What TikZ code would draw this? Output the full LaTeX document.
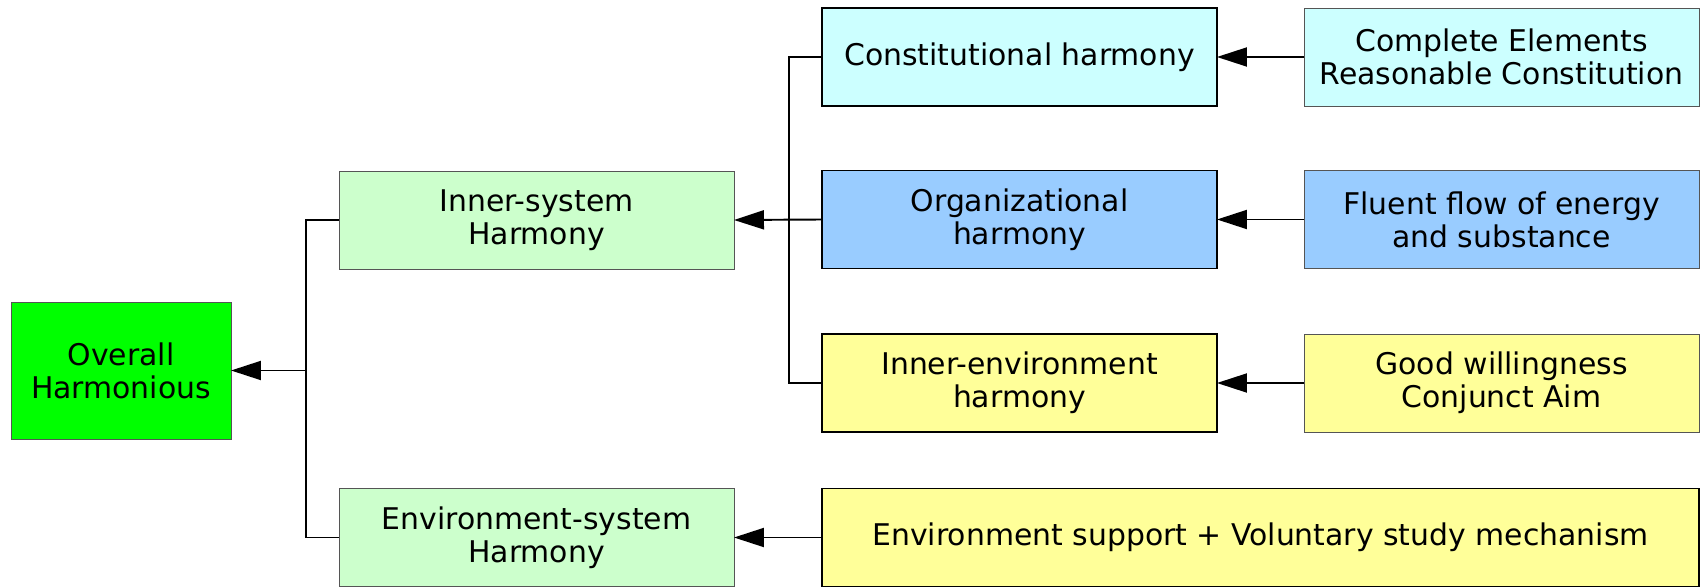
\documentclass[tikz,border=0pt]{standalone}
\usepackage{fontspec}
\setmainfont{DejaVu Sans}
\usepackage{tikz}
\usetikzlibrary{arrows.meta}

\definecolor{topgreen}{HTML}{00FF00}
\definecolor{palegreen}{HTML}{CCFFCC}
\definecolor{palecyan}{HTML}{CCFFFF}
\definecolor{paleblue}{HTML}{99CCFF}
\definecolor{paleyellow}{HTML}{FFFF99}
\definecolor{boxgrey}{HTML}{555555}

\tikzset{
	box/.style={rectangle, inner sep=0pt, outer sep=0pt, align=center,
		font=\fontsize{17}{18.8}\selectfont, minimum width=7.9cm, minimum height=1.96cm},
	thinbox/.style={box, draw=boxgrey, line width=0.5pt},
	thickbox/.style={box, draw=black, line width=1.1pt},
	arr/.style={line width=1.1pt, -{Triangle[length=0.6cm, width=0.38cm]}},
	link/.style={line width=1.1pt}
}

\begin{document}
\begin{tikzpicture}[x=0.02cm, y=-0.02cm]
		%%Location
		\useasboundingbox (0,0) rectangle (1706,587);
		%%Left column
		\node[thinbox, fill=topgreen, minimum width=4.4cm, minimum height=2.74cm] (overall) at (121,370.5) {Overall\\Harmonious};
		\node[thinbox, fill=palegreen] (inner) at (536.5,220) {Inner-system\\Harmony};
		\node[thinbox, fill=palegreen] (envsys) at (536.5,537.5) {Environment-system\\Harmony};
		%%Middle column
		\node[thickbox, fill=palecyan] (const) at (1019.5,57) {Constitutional harmony};
		\node[thickbox, fill=paleblue] (org) at (1019.5,219.5) {Organizational\\harmony};
		\node[thickbox, fill=paleyellow] (innerenv) at (1019.5,383) {Inner-environment\\harmony};
		\node[thickbox, fill=paleyellow, minimum width=17.54cm] (envsup) at (1260.5,537.5) {Environment support + Voluntary study mechanism};
		%%Right column
		\node[thinbox, fill=palecyan] (compl) at (1501.5,57) {Complete Elements\\Reasonable Constitution};
		\node[thinbox, fill=paleblue] (fluent) at (1501.5,219.5) {Fluent flow of energy\\and substance};
		\node[thinbox, fill=paleyellow] (good) at (1501.5,383) {Good willingness\\Conjunct Aim};
		
		%%Joints
		\coordinate (ltop) at (306,220);
		\coordinate (lmid) at (306,370.5);
		\coordinate (lbot) at (306,537.5);
		\coordinate (rtop) at (789,57);
		\coordinate (rbot) at (789,383);
		
		%%Arrows
		\draw[arr] (compl.west) -- (const.east);
		\draw[arr] (fluent.west) -- (org.east);
		\draw[arr] (good.west) -- (innerenv.east);
		\draw[arr] (envsup.west) -- (envsys.east);
		\draw[arr] (org.west) -- (inner.east);
		\draw[arr] (lmid) -- (overall.east);
		\draw[link] (const.west) -- (rtop) -- (rbot) -- (innerenv.west);
		\draw[link] (inner.west) -- (ltop) -- (lbot) -- (envsys.west);
\end{tikzpicture}
\end{document}
